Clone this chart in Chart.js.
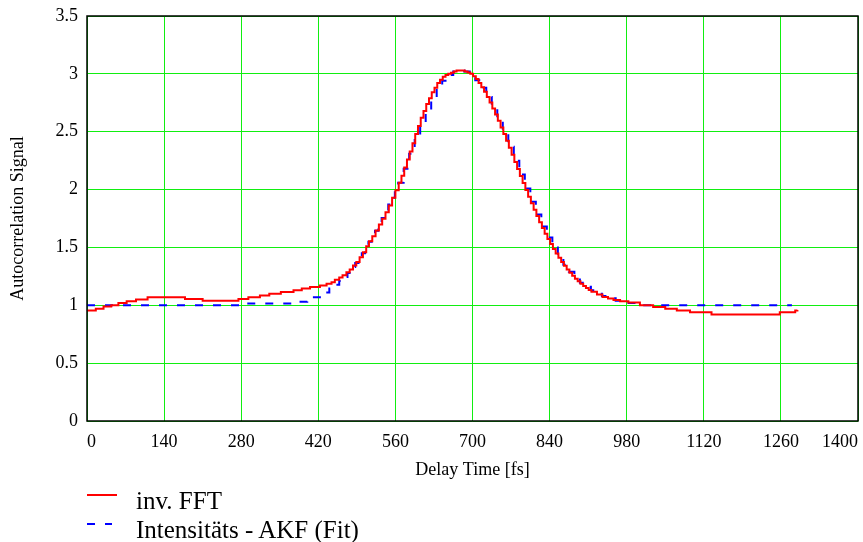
<!DOCTYPE html>
<html>
<head>
<meta charset="utf-8">
<script src="https://cdn.jsdelivr.net/npm/chart.js@4.4.1/dist/chart.umd.min.js"></script>
<style>
body{margin:0;background:#fff}
#wrap{position:relative;width:863px;height:542px}
.leg{position:absolute;left:136px;font:25px/25px 'Liberation Serif','Times New Roman',serif;color:#000;white-space:nowrap}
.sw{position:absolute;height:2px}
</style>
</head>
<body>
<div id="wrap">
  <canvas id="c" width="863" height="542"></canvas>
  <div class="sw" style="left:87px;top:494px;width:30px;background:#f00"></div>
  <div class="sw" style="left:87px;top:523px;width:8px;background:#00f"></div>
  <div class="sw" style="left:105px;top:523px;width:7px;background:#00f"></div>
  <div class="leg" style="top:488px">inv. FFT</div>
  <div class="leg" style="top:517px">Intensitäts - AKF (Fit)</div>
</div>
<script>
// inv. FFT (red, stepped)
const fftTime = [0,16,30,44,57,72,89,110,178,210,275,293,314,331,352,375,390,405,423,435,444,450,458,464,471,477,
  483,489,495,501,507,512,518,524,530,536,542,548,554,560,566,571,576,581,586,591,596,601,606,611,616,621,626,631,636,
  641,646,651,656,661,666,671,676,681,686,691,696,701,706,711,716,721,726,731,736,741,746,751,756,761,766,771,776,781,
  786,791,796,801,806,811,816,821,826,831,836,841,846,851,856,861,866,871,876,881,886,891,896,901,906,911,916,926,936,
  946,956,968,983,1004,1028,1050,1071,1095,1134,1258,1286,1290];
const fftSignal = [0.955,0.97,0.99,1.0,1.02,1.035,1.05,1.07,1.055,1.04,1.055,1.07,1.085,1.10,1.115,1.13,1.145,1.158,1.172,1.187,1.20,1.22,1.24,1.26,1.285,1.31,
  1.343,1.375,1.415,1.458,1.51,1.553,1.597,1.646,1.698,1.747,1.805,1.863,1.93,1.995,2.06,2.12,2.19,2.26,2.33,2.40,2.48,2.55,2.62,2.68,2.74,2.79,2.84,2.88,2.92,
  2.95,2.975,2.99,3.0,3.01,3.02,3.03,3.03,3.028,3.02,3.012,3.0,2.98,2.955,2.922,2.885,2.845,2.80,2.752,2.70,2.648,2.594,2.537,2.48,2.421,2.361,2.30,2.238,2.177,
  2.117,2.056,1.997,1.938,1.881,1.825,1.771,1.718,1.668,1.619,1.573,1.529,1.487,1.447,1.41,1.374,1.341,1.31,1.281,1.255,1.23,1.207,1.186,1.166,1.149,1.133,1.118,1.093,1.072,
  1.058,1.045,1.035,1.025,1.0,0.985,0.97,0.955,0.94,0.92,0.94,0.955,0.96];

// Intensitäts - AKF (Fit) (blue, dashed)
const fitTime = [0,287,372,400,426,440,447,458,465,473,481,487,493,499,505,511,517,523,529,535,541,547,553,559,565,575,585,595,605,615,625,
  635,645,655,665,675,685,695,705,715,725,735,745,755,765,775,785,795,805,815,825,835,845,855,865,875,885,895,905,915,925,935,945,960,975,995,1280];
const fitSignal = [1.0,1.015,1.03,1.07,1.11,1.145,1.178,1.21,1.245,1.28,1.33,1.365,1.405,1.45,1.50,1.55,1.595,1.645,1.70,1.755,1.81,1.87,1.93,1.995,2.06,2.18,2.31,2.44,2.57,2.68,2.78,
  2.87,2.94,2.99,3.02,3.03,3.02,2.99,2.945,2.88,2.80,2.71,2.605,2.49,2.37,2.25,2.13,2.01,1.895,1.785,1.68,1.585,1.50,1.42,1.35,1.29,1.24,1.195,1.16,1.13,1.10,1.08,1.06,1.04,1.02,1.0,1.0];

const GRID = '#11ee11';
const FONT = "'Liberation Serif', 'Times New Roman', serif";

const frame = {
  id: 'frame',
  afterDraw(chart) {
    const a = chart.chartArea, ctx = chart.ctx;
    ctx.save();
    ctx.strokeStyle = '#000';
    ctx.lineWidth = 1.5;
    ctx.strokeRect(a.left, a.top, a.right - a.left, a.bottom - a.top);
    ctx.restore();
  }
};

Chart.defaults.font.family = FONT;
Chart.defaults.color = '#000';

new Chart(document.getElementById('c'), {
  type: 'line',
  data: {
    datasets: [
      { label: 'inv. FFT', data: fftTime.map((t, i) => ({x: t, y: fftSignal[i]})),
        borderColor: '#f00', borderWidth: 2, stepped: true, pointRadius: 0, fill: false },
      { label: 'Intensitäts - AKF (Fit)', data: fitTime.map((t, i) => ({x: t, y: fitSignal[i]})),
        borderColor: '#00f', borderWidth: 2, borderDash: [8, 10], stepped: true, pointRadius: 0, fill: false }
    ]
  },
  options: {
    responsive: false, animation: false, devicePixelRatio: 1,
    layout: { padding: { left: 0, right: 5, top: 16, bottom: 61 } },
    plugins: { legend: { display: false }, tooltip: { enabled: false } },
    scales: {
      x: {
        type: 'linear', min: 0, max: 1400,
        ticks: { stepSize: 140, padding: 10, align: 'inner', maxRotation: 0, autoSkip: false, font: { size: 18 },
          callback: v => String(v) },
        grid: { color: GRID, drawTicks: false },
        border: { display: false },
        title: { display: true, text: 'Delay Time [fs]', font: { size: 18 }, padding: { top: 8, bottom: 0 } },
        afterFit: s => { s.height = 60; s.paddingLeft = 0; s.paddingRight = 0; }
      },
      y: {
        min: 0, max: 3.5,
        ticks: { stepSize: 0.5, padding: 9, font: { size: 18 }, callback: v => String(v) },
        grid: { color: GRID, drawTicks: false },
        border: { display: false },
        title: { display: true, text: 'Autocorrelation Signal', font: { size: 18 }, padding: { top: 7, bottom: 0 } },
        afterFit: s => { s.width = 87; s.paddingTop = 0; s.paddingBottom = 0; }
      }
    }
  },
  plugins: [frame]
});
</script>
</body>
</html>
